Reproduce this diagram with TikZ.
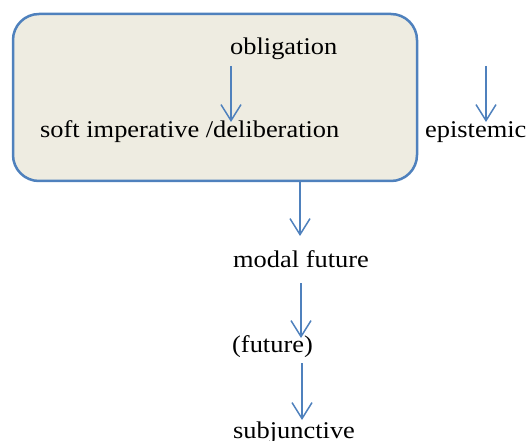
\documentclass[tikz,border=0pt]{standalone}
\usepackage{fontspec}
\setmainfont{Liberation Serif}[FakeStretch=1.1]
\usetikzlibrary{arrows.meta}
\definecolor{boxblue}{HTML}{4F81BD}
\definecolor{boxtan}{HTML}{EEECE1}

\begin{document}
\begin{tikzpicture}[x=1pt, y=-1pt, font=\fontsize{24}{28}\selectfont,
	lbl/.style={anchor=base west, inner sep=0pt},
	link/.style={draw=boxblue, line width=1.5pt, -{Straight Barb[length=16pt, width=20pt]}}]
	\useasboundingbox (0,0) rectangle (528,441);
	\node [draw=boxblue, fill=boxtan, line width=2.5pt, rounded corners=26pt,
		minimum width=404pt, minimum height=167pt] (modbox) at (215,97.5) {};
	% labels
	\node [lbl] (obl) at (230,55) {obligation};
	\node [lbl] (soft) at (40,138) {soft imperative /deliberation};
	\node [lbl] (epist) at (425,138) {epistemic};
	\node [lbl] (modfut) at (233,268) {modal future};
	\node [lbl] (fut) at (232,352) {(future)};
	\node [lbl] (subj) at (233,438) {subjunctive};
	% arrow ends
	\coordinate (a1) at (231,66);   \coordinate (b1) at (231,122);
	\coordinate (a2) at (486,66);   \coordinate (b2) at (486,122);
	\coordinate (a3) at (300,181);  \coordinate (b3) at (300,236);
	\coordinate (a4) at (301,283);  \coordinate (b4) at (301,338);
	\coordinate (a5) at (302,363);  \coordinate (b5) at (302,420);
	\draw [link] (a1) -- (b1);
	\draw [link] (a2) -- (b2);
	\draw [link] (a3) -- (b3);
	\draw [link] (a4) -- (b4);
	\draw [link] (a5) -- (b5);
\end{tikzpicture}
\end{document}
